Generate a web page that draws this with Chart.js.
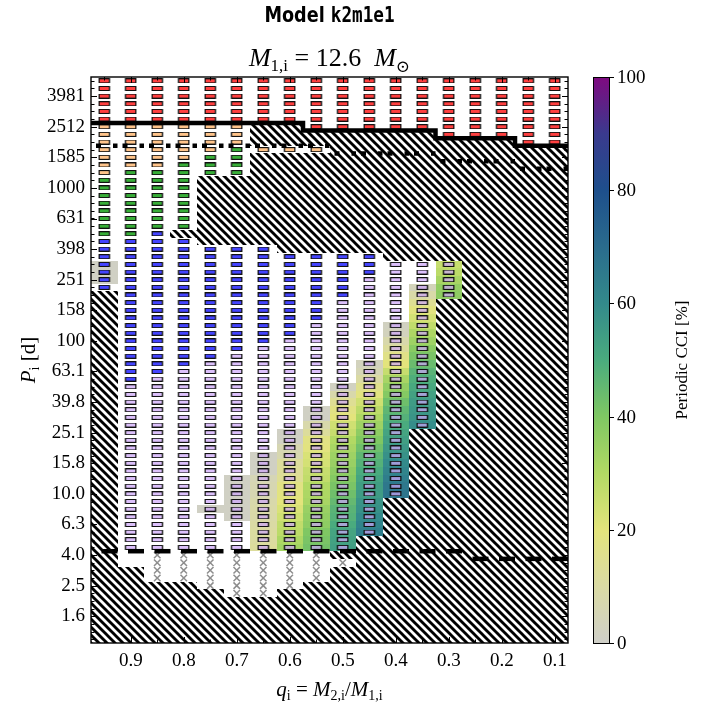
<!DOCTYPE html>
<html><head><meta charset="utf-8">
<script src="https://cdn.jsdelivr.net/npm/chart.js@4.4.1/dist/chart.umd.min.js"></script>
<style>html,body{margin:0;padding:0;background:#fff;}canvas{display:block;}</style>
</head><body>
<canvas id="c" width="714" height="713"></canvas>
<script>
// ---------------- data (log10 P rows, q columns) ----------------
const qCols = [0.95,0.90,0.85,0.80,0.75,0.70,0.65,0.60,0.55,0.50,0.45,0.40,0.35,0.30,0.25,0.20,0.15,0.10];
const xTickValues = [0.9,0.8,0.7,0.6,0.5,0.4,0.3,0.2,0.1];
const xTickLabels = ['0.9','0.8','0.7','0.6','0.5','0.4','0.3','0.2','0.1'];
const yTickValues = [0.2,0.4,0.6,0.8,1.0,1.2,1.4,1.6,1.8,2.0,2.2,2.4,2.6,2.8,3.0,3.2,3.4,3.6];
const yTickLabels = ['1.6','2.5','4.0','6.3','10.0','15.8','25.1','39.8','63.1','100','158','251','398','631','1000','1585','2512','3981'];
const cbTickValues = [0,20,40,60,80,100];

// marker runs: [q, top log10P, bottom log10P]
const redRuns = [[0.95,3.70,3.45],[0.90,3.70,3.45],[0.85,3.70,3.45],[0.80,3.70,3.45],[0.75,3.70,3.45],[0.70,3.70,3.45],[0.65,3.70,3.45],[0.60,3.70,3.45],
  [0.55,3.70,3.40],[0.50,3.70,3.40],[0.45,3.70,3.40],[0.40,3.70,3.40],[0.35,3.70,3.40],
  [0.30,3.70,3.35],[0.25,3.70,3.35],[0.20,3.70,3.35],[0.15,3.70,3.30],[0.10,3.70,3.30]];
const orangeRuns = [[0.95,3.40,3.10],[0.90,3.40,3.15],[0.85,3.40,3.15],[0.80,3.40,3.20],[0.75,3.40,3.25],[0.70,3.40,3.30],
  [0.65,3.25,3.25],[0.60,3.25,3.25],[0.55,3.25,3.25]];
const greenRuns = [[0.95,3.05,2.70],[0.90,3.10,2.70],[0.85,3.10,2.75],[0.80,3.15,2.75],[0.75,3.20,3.10],[0.70,3.25,3.10]];
const blueRuns = [[0.95,2.65,2.35],[0.90,2.65,1.75],[0.85,2.70,1.80],[0.80,2.65,1.85],[0.75,2.60,1.90],[0.70,2.60,1.95],
  [0.65,2.60,2.00],[0.60,2.55,2.05],[0.55,2.55,2.15],[0.50,2.55,2.30],[0.45,2.55,2.45]];
const lavenderRuns = [[0.90,1.70,0.65],[0.85,1.75,0.65],[0.80,1.80,0.65],[0.75,1.85,0.65],[0.70,1.90,0.65],[0.65,1.95,0.65],
  [0.60,2.00,0.65],[0.55,2.10,0.65],[0.50,2.25,0.65],[0.45,2.40,0.75],[0.40,2.50,1.00],[0.35,2.50,1.45],[0.30,2.50,2.30]];
const crossRuns = [[0.85,0.60,0.45],[0.80,0.60,0.45],[0.75,0.60,0.40],[0.70,0.60,0.35],[0.65,0.60,0.35],[0.60,0.60,0.40],[0.55,0.60,0.45],[0.50,0.55,0.55]];

// hatched (no data) runs: [q, top row, bottom row]
const hatchRuns = [[0.95,2.30,0.05],[0.90,0.50,0.05],[0.85,0.40,0.05],
  [0.80,2.70,2.70],[0.80,0.40,0.05],
  [0.75,3.05,2.65],[0.75,0.35,0.05],
  [0.70,3.05,2.65],[0.70,0.30,0.05],
  [0.65,3.40,3.30],[0.65,3.20,2.65],[0.65,0.30,0.05],
  [0.60,3.40,3.30],[0.60,3.20,2.60],[0.60,0.35,0.05],
  [0.55,3.35,3.30],[0.55,3.20,2.60],[0.55,0.40,0.05],
  [0.50,3.35,2.60],[0.50,0.60,0.60],[0.50,0.50,0.05],
  [0.45,3.35,2.60],[0.45,0.70,0.05],
  [0.40,3.35,2.55],[0.40,0.95,0.05],
  [0.35,3.35,2.55],[0.35,1.40,0.05],
  [0.30,3.30,2.55],[0.30,2.25,0.05],
  [0.25,3.30,0.05],[0.20,3.30,0.05],[0.15,3.25,0.05],[0.10,3.25,0.05]];

// periodic CCI [%] cells: [q, top row, values downward]
const cciQ095 = [1,1,1];
const cciQ075 = [1];
const cciQ070 = [1,1,1,1,1,1];
const cciQ065 = [1,1,1,5,6,6,8,9,9,10,11,11,12];
const cciQ060 = [1,1,6,7,12,13,14,18,19,20,22,24,27,28,31,33];
const cciQ055 = [1,1,8,12,18,19,22,23,26,27,30,31,32,35,36,37,40,41,42];
const cciQ050 = [2,8,14,18,20,24,26,30,32,34,35,37,39,41,43,45,47,48,50,52,53,54];
const cciQ045 = [3,5,10,16,19,24,28,31,34,37,40,43,46,48,50,52,54,55,57,58,60,62,64];
const cciQ040 = [2,3,8,12,17,20,26,32,36,39,43,46,48,50,52,54,56,58,60,62,64,66,67];
const cciQ035 = [4,9,14,19,23,27,31,34,38,41,44,47,49,51,53,55,56,57,59];
const cciQ030 = [26,28,32,36,37];
const cciCols = [[0.95,2.50,cciQ095],[0.75,0.90,cciQ075],[0.70,1.10,cciQ070],[0.65,1.25,cciQ065],[0.60,1.40,cciQ060],
  [0.55,1.55,cciQ055],[0.50,1.70,cciQ050],[0.45,1.85,cciQ045],[0.40,2.10,cciQ040],[0.35,2.35,cciQ035],[0.30,2.50,cciQ030]];

// boundary lines (cell-edge log10P per column)
const solidLevels  = [3.425,3.425,3.425,3.425,3.425,3.425,3.425,3.425,3.375,3.375,3.375,3.375,3.375,3.325,3.325,3.325,3.275,3.275];
const dottedLevels = [3.275,3.275,3.275,3.275,3.275,3.275,3.275,3.275,3.275,3.225,3.225,3.225,3.225,3.175,3.175,3.175,3.125,3.125];
const dashedLevels = [0.625,0.625,0.625,0.625,0.625,0.625,0.625,0.625,0.625,0.625,0.625,0.625,0.625,0.625,0.575,0.575,0.575,0.575];

const cmapStops = [[0,'#cfcfc8'],[10,'#dadaa4'],[20,'#e3e47c'],[30,'#b2d964'],[40,'#7fc763'],[50,'#4aab7e'],
  [60,'#338a8b'],[70,'#2a6c8d'],[80,'#1e4f8c'],[90,'#3a3a8e'],[100,'#7f0a80']];

// ---------------- helpers ----------------
const ROW = 0.05, HR = 0.025, HQ = 0.025;
function hex(h){return [parseInt(h.slice(1,3),16),parseInt(h.slice(3,5),16),parseInt(h.slice(5,7),16)];}
function cmap(v){
  for(let i=1;i<cmapStops.length;i++){
    if(v<=cmapStops[i][0]){
      const [v0,c0]=cmapStops[i-1],[v1,c1]=cmapStops[i];
      const t=(v-v0)/(v1-v0), a=hex(c0), b=hex(c1);
      return 'rgb('+a.map((u,k)=>Math.round(u+(b[k]-u)*t)).join(',')+')';
    }
  }
  return cmapStops[cmapStops.length-1][1];
}
function runPoints(runs){
  const pts=[];
  runs.forEach(([q,t,b])=>{const n=Math.round((t-b)/ROW);for(let k=0;k<=n;k++)pts.push({x:q,y:+(t-k*ROW).toFixed(3)});});
  return pts;
}
function makeMarker(fill){
  const c=document.createElement('canvas');c.width=13;c.height=5;
  const g=c.getContext('2d');
  g.fillStyle='rgba(0,0,0,0.25)';
  g.fillRect(0,0,1,5);g.fillRect(12,0,1,5);
  g.fillStyle='#111';
  g.fillRect(1,0,11,1);g.fillRect(1,4,11,1);g.fillRect(1,1,1,3);g.fillRect(11,1,1,3);
  g.fillStyle=fill;g.fillRect(2,1,9,3);
  return c;
}
function markerSet(runs,fill){
  return {type:'scatter',data:runPoints(runs),pointStyle:makeMarker(fill),pointRadius:6,showLine:false,order:2};
}
function segSets(levels,dash,offset){
  const sets=[];
  levels.forEach((lv,i)=>{
    const q=qCols[i];
    sets.push({type:'scatter',showLine:true,data:[{x:q+HQ,y:lv},{x:q-HQ,y:lv}],borderColor:'#000',borderWidth:4.5,
      borderDash:dash,borderDashOffset:offset,borderCapStyle:'butt',pointRadius:0,order:0});
  });
  return sets;
}
function stepPoints(levels){
  const pts=[];
  levels.forEach((lv,i)=>{pts.push({x:qCols[i]+HQ,y:lv});pts.push({x:qCols[i]-HQ,y:lv});});
  return pts;
}

const datasets = [
  {type:'scatter',showLine:true,data:stepPoints(solidLevels),borderColor:'#000',borderWidth:4.5,pointRadius:0,borderJoinStyle:'miter',order:0},
  ...segSets(dottedLevels,[5,12],12),
  ...segSets(dashedLevels,[16,10.5],16),
  markerSet(redRuns,'#ff4040'),
  markerSet(orangeRuns,'#ffc48a'),
  markerSet(greenRuns,'#38ae38'),
  markerSet(blueRuns,'#4444ff'),
  markerSet(lavenderRuns,'rgba(205,165,250,0.7)'),
  {type:'scatter',data:runPoints(crossRuns),pointStyle:'crossRot',pointRadius:4.6,borderColor:'#8e8e8e',borderWidth:1.5,showLine:false,order:2}
];

let hatchPattern=null;
function getPattern(ctx){
  if(hatchPattern)return hatchPattern;
  const P=8,t=document.createElement('canvas');t.width=P;t.height=P;
  const g=t.getContext('2d');g.fillStyle='#fff';g.fillRect(0,0,P,P);
  g.strokeStyle='#000';g.lineWidth=2.9;
  for(let k=-1;k<=1;k++){g.beginPath();g.moveTo(k*P-2,-2);g.lineTo(k*P+P+2,P+2);g.stroke();}
  hatchPattern=ctx.createPattern(t,'repeat');return hatchPattern;
}
function cellRect(x,y,q,r){
  const xa=Math.round(x.getPixelForValue(q+HQ)),xb=Math.round(x.getPixelForValue(q-HQ));
  const ya=Math.round(y.getPixelForValue(r+HR)),yb=Math.round(y.getPixelForValue(r-HR));
  return [Math.min(xa,xb),Math.min(ya,yb),Math.abs(xb-xa),Math.abs(yb-ya)];
}

const cellPlugin={
  id:'cells',
  beforeDatasetsDraw(chart){
    const {ctx,chartArea:a,scales:{x,y}}=chart;
    ctx.save();
    ctx.fillStyle='#fff';ctx.fillRect(a.left,a.top,a.right-a.left,a.bottom-a.top);
    ctx.beginPath();ctx.rect(a.left,a.top,a.right-a.left,a.bottom-a.top);ctx.clip();
    cciCols.forEach(([q,top,vals])=>{
      vals.forEach((v,k)=>{const r=top-k*ROW;const [rx,ry,rw,rh]=cellRect(x,y,q,r);ctx.fillStyle=cmap(v);ctx.fillRect(rx,ry,rw,rh);});
    });
    ctx.beginPath();
    hatchRuns.forEach(([q,t,b])=>{
      const xa=Math.round(x.getPixelForValue(q+HQ)),xb=Math.round(x.getPixelForValue(q-HQ));
      const ya=Math.round(y.getPixelForValue(t+HR)),yb=Math.round(y.getPixelForValue(b-HR));
      ctx.rect(Math.min(xa,xb),Math.min(ya,yb),Math.abs(xb-xa),Math.abs(yb-ya));
    });
    ctx.fillStyle=getPattern(ctx);ctx.fill();
    ctx.restore();
  }
};

function drawRich(ctx,parts,cx,cy,rot,sx){
  ctx.save();ctx.translate(cx,cy);if(rot)ctx.rotate(rot);if(sx)ctx.scale(sx,1);
  let w=0;parts.forEach(p=>{ctx.font=p.f;p.w=ctx.measureText(p.t).width;w+=p.w;});
  let xx=-w/2;ctx.fillStyle='#000';ctx.textBaseline='alphabetic';ctx.textAlign='left';
  parts.forEach(p=>{ctx.font=p.f;ctx.fillText(p.t,xx,p.dy||0);xx+=p.w;});
  ctx.restore();
}

const SERIF='"Liberation Serif", "DejaVu Serif", serif';
const decorPlugin={
  id:'decor',
  afterDraw(chart){
    const {ctx,chartArea:a,scales:{x,y,cb}}=chart;
    ctx.save();
    ctx.strokeStyle='#000';ctx.lineWidth=1;
    const maj=6,mnr=3.5;
    for(let i=0;i<qCols.length;i++){
      const px=Math.round(x.getPixelForValue(qCols[i]))+0.5;
      ctx.beginPath();ctx.moveTo(px,a.bottom);ctx.lineTo(px,a.bottom-mnr);ctx.moveTo(px,a.top);ctx.lineTo(px,a.top+mnr);ctx.stroke();
    }
    xTickValues.forEach(v=>{const px=Math.round(x.getPixelForValue(v))+0.5;
      ctx.beginPath();ctx.moveTo(px,a.bottom);ctx.lineTo(px,a.bottom-maj);ctx.moveTo(px,a.top);ctx.lineTo(px,a.top+maj);ctx.stroke();});
    for(let k=1;k<=74;k++){
      const r=k*ROW;const py=Math.round(y.getPixelForValue(r))+0.5;
      ctx.beginPath();ctx.moveTo(a.left,py);ctx.lineTo(a.left+mnr,py);ctx.moveTo(a.right,py);ctx.lineTo(a.right-mnr,py);ctx.stroke();
    }
    yTickValues.forEach(v=>{const py=Math.round(y.getPixelForValue(v))+0.5;
      ctx.beginPath();ctx.moveTo(a.left,py);ctx.lineTo(a.left+maj,py);ctx.moveTo(a.right,py);ctx.lineTo(a.right-maj,py);ctx.stroke();});
    ctx.lineWidth=1.4;ctx.strokeRect(a.left,a.top,a.right-a.left,a.bottom-a.top);
    // colorbar
    const cbL=a.right+25,cbW=16;
    const y0=cb.getPixelForValue(0),y1=cb.getPixelForValue(100);
    const grad=ctx.createLinearGradient(0,y0,0,y1);
    cmapStops.forEach(([v,c])=>grad.addColorStop(v/100,c));
    ctx.fillStyle=grad;ctx.fillRect(cbL,y1,cbW,y0-y1);
    ctx.lineWidth=1;ctx.strokeRect(cbL+0.5,y1+0.5,cbW,y0-y1);
    ctx.font='19px '+SERIF;ctx.fillStyle='#000';ctx.textAlign='left';ctx.textBaseline='middle';
    cbTickValues.forEach(v=>{const py=Math.round(cb.getPixelForValue(v))+0.5;
      ctx.beginPath();ctx.moveTo(cbL+cbW,py);ctx.lineTo(cbL+cbW+5,py);ctx.stroke();
      ctx.fillText(String(v),cbL+cbW+8,py+1);});
    ctx.restore();
    const cx=(a.left+a.right)/2;
    drawRich(ctx,[{t:'Model ',f:'bold 21px "DejaVu Sans"'},{t:'k2m1e1',f:'bold 21px "DejaVu Sans Mono"'}],cx,22,0,0.84);
    const big='26px '+SERIF, bigI='italic 26px '+SERIF, sub='17px '+SERIF;
    drawRich(ctx,[{t:'M',f:bigI},{t:'1,i',f:sub,dy:5},{t:' = 12.6  ',f:big},{t:'M',f:bigI},{t:'\u2299',f:sub,dy:6}],cx,66);
    const m='21px '+SERIF, mi='italic 21px '+SERIF, ms='14px '+SERIF;
    drawRich(ctx,[{t:'q',f:mi},{t:'i',f:ms,dy:4},{t:' = ',f:m},{t:'M',f:mi},{t:'2,i',f:ms,dy:4},{t:'/',f:m},{t:'M',f:mi},{t:'1,i',f:ms,dy:4}],cx,696);
    drawRich(ctx,[{t:'P',f:mi},{t:'i',f:ms,dy:4},{t:' [d]',f:m}],35,(a.top+a.bottom)/2,-Math.PI/2);
    drawRich(ctx,[{t:'Periodic CCI [%]',f:'17px '+SERIF}],687,(a.top+a.bottom)/2,-Math.PI/2);
  }
};

new Chart(document.getElementById('c'),{
  type:'scatter',
  data:{datasets},
  options:{
    responsive:false,animation:false,devicePixelRatio:1,events:[],
    layout:{padding:{left:0,right:146,top:77,bottom:0}},
    plugins:{legend:{display:false},tooltip:{enabled:false}},
    scales:{
      x:{type:'linear',min:0.075,max:0.975,reverse:true,
        grid:{display:false,drawTicks:false},border:{display:false},
        afterBuildTicks:s=>{s.ticks=xTickValues.map(v=>({value:v}));},
        afterFit:s=>{s.height=70;},
        ticks:{autoSkip:false,maxRotation:0,padding:7,color:'#000',font:{family:'Liberation Serif',size:19},
          callback:v=>{const i=xTickValues.findIndex(t=>Math.abs(t-v)<1e-6);return i>=0?xTickLabels[i]:'';}}},
      y:{type:'linear',min:0.025,max:3.725,
        grid:{display:false,drawTicks:false},border:{display:false},
        afterBuildTicks:s=>{s.ticks=yTickValues.map(v=>({value:v}));},
        afterFit:s=>{s.width=91;},
        ticks:{autoSkip:false,padding:6,color:'#000',font:{family:'Liberation Serif',size:19},
          callback:v=>{const i=yTickValues.findIndex(t=>Math.abs(t-v)<1e-6);return i>=0?yTickLabels[i]:'';}}},
      cb:{type:'linear',position:'right',display:false,min:0,max:100}
    }
  },
  plugins:[cellPlugin,decorPlugin]
});
</script>
</body></html>
